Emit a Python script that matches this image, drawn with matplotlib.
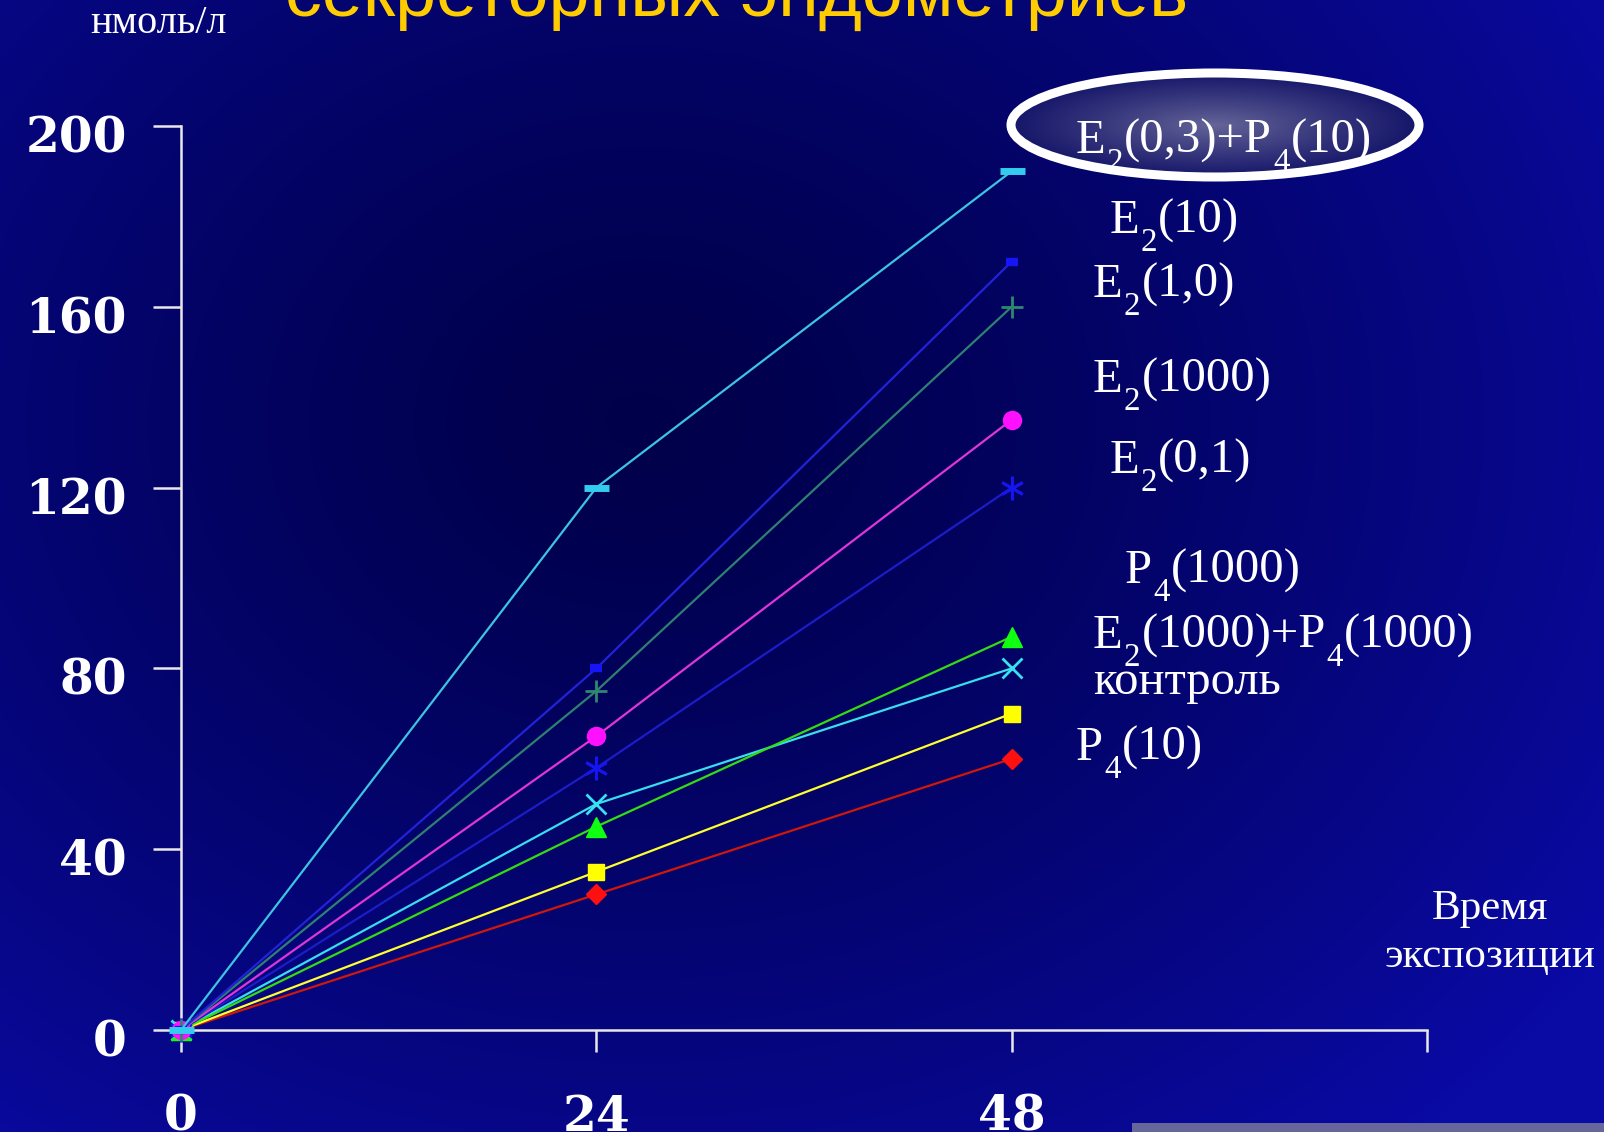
import numpy as np
import matplotlib
matplotlib.use("Agg")
import matplotlib.pyplot as plt
from matplotlib.patches import Ellipse, Rectangle
from matplotlib.transforms import ScaledTranslation

# ---- data ----
hours = [0, 24, 48]
x_ticks = [0, 24, 48, 72]
x_tick_labels = ['0', '24', '48', '']
y_ticks = [0, 40, 80, 120, 160, 200]

# "_x" marks a subscript character
series_names = [
    "E_2(0,3)+P_4(10)",
    "E_2(10)",
    "E_2(1,0)",
    "E_2(1000)",
    "E_2(0,1)",
    "P_4(1000)",
    "E_2(1000)+P_4(1000)",
    "контроль",
    "P_4(10)",
]
s_e2_03_p4_10 = [0, 120, 190]
s_e2_10 = [0, 80, 170]
s_e2_1 = [0, 75, 160]
s_e2_1000 = [0, 65, 135]
s_e2_01 = [0, 58, 120]
s_p4_1000 = [0, 45, 87]
s_e2_1000_p4_1000 = [0, 50, 80]
s_control = [0, 35, 70]
s_p4_10 = [0, 30, 60]
series_values = [s_e2_03_p4_10, s_e2_10, s_e2_1, s_e2_1000, s_e2_01,
                 s_p4_1000, s_e2_1000_p4_1000, s_control, s_p4_10]

# line colour, marker, marker colour, marker size, marker edge width
styles = [
    ('#3CC4E0', '_', '#33CCEE', 18, 5),
    ('#2222D8', '_', '#1515F5', 9, 6),
    ('#2E8070', '+', '#2E8870', 16, 2),
    ('#E035D8', 'o', '#FF10FF', 13, 1),
    ('#1C1CC8', (6, 2, 0), '#1515F0', 17, 2),
    ('#33DD11', '^', '#11FF11', 15, 1),
    ('#38DDEE', 'x', '#38E0F0', 15, 2),
    ('#FFFF30', 's', '#FFFF00', 12, 1),
    ('#D01808', 'D', '#FF1010', 10, 1),
]

# text label positions (figure pixels: left x, baseline y)
label_pos = [(1076, 153), (1110, 233), (1093, 297), (1093, 392), (1110, 473),
             (1125, 583), (1093, 648), (1093, 694), (1076, 760)]

W, H = 1604, 1132
fig = plt.figure(figsize=(W / 100, H / 100), dpi=100)
renderer = fig.canvas.get_renderer()

# ---- background: navy radial gradient ----
bg = fig.add_axes([0, 0, 1, 1], zorder=0)
bg.set_xlim(0, W)
bg.set_ylim(H, 0)
bg.axis('off')
yy, xx = np.mgrid[0:H:4, 0:W:4]
d = np.sqrt(((xx - 640) / 1150.0) ** 2 + ((yy - 420) / 950.0) ** 2)
d = np.clip(d, 0, 1) ** 1.3
dark = np.array([0x00, 0x00, 0x4A]) / 255.0
bright = np.array([0x0A, 0x0A, 0xA4]) / 255.0
img = dark[None, None, :] + (bright - dark)[None, None, :] * d[..., None]
bg.imshow(img, extent=[0, W, H, 0], aspect='auto', interpolation='bilinear')

# highlighted ellipse behind the first label
ecx, ecy, ew, eh = 1215, 125, 408, 104
ey, ex = np.mgrid[-1:1:200j, -1:1:400j]
r = np.clip(np.sqrt(ex ** 2 + ey ** 2), 0, 1)
c_in = np.array([0x66, 0x66, 0x99]) / 255.0
c_out = np.array([0x16, 0x16, 0x6A]) / 255.0
eimg = c_in[None, None, :] + (c_out - c_in)[None, None, :] * (r[..., None] ** 0.9)
im = bg.imshow(eimg, extent=[ecx - ew / 2, ecx + ew / 2, ecy + eh / 2, ecy - eh / 2],
               aspect='auto', interpolation='bilinear', zorder=2)
clip_e = Ellipse((ecx, ecy), ew, eh, transform=bg.transData, facecolor='none')
bg.add_patch(clip_e)
clip_e.set_visible(False)
im.set_clip_path(clip_e)
bg.add_patch(Ellipse((ecx, ecy), ew, eh, facecolor='none', edgecolor='white',
                     linewidth=6.5, zorder=3))

# grey strip in lower right corner
bg.add_patch(Rectangle((1132, 1123), W - 1132, 20, facecolor='#66669A',
                       edgecolor='none', zorder=2))

# partially visible title
bg.text(285, 16, "секреторных эндометриев", color='#FFCC00',
        fontsize=53, family='Liberation Sans', ha='left', va='baseline', zorder=4)

# axis unit label
bg.text(90, 33, "нмоль/л", color='white', fontsize=29,
        family='Liberation Serif', ha='left', va='baseline', zorder=4)

# x-axis caption
bg.text(1490, 919, "Время", color='white', fontsize=31,
        family='Liberation Serif', ha='center', va='baseline', zorder=4)
bg.text(1490, 967, "экспозиции", color='white', fontsize=31,
        family='Liberation Serif', ha='center', va='baseline', zorder=4)


def label_with_subscripts(x, y, s, size):
    """Draw text where '_c' renders c as a lowered, smaller subscript."""
    runs = []
    i = 0
    buf = ''
    while i < len(s):
        if s[i] == '_' and i + 1 < len(s):
            if buf:
                runs.append((buf, False))
                buf = ''
            runs.append((s[i + 1], True))
            i += 2
        else:
            buf += s[i]
            i += 1
    if buf:
        runs.append((buf, False))
    for txt, sub in runs:
        fs = size * 0.68 if sub else size
        dy = size * 0.52 if sub else 0
        t = bg.text(x, y + dy, txt, color='white', fontsize=fs,
                    family='Liberation Serif', ha='left', va='baseline', zorder=5)
        x += t.get_window_extent(renderer).width + 1


for name, (lx, ly) in zip(series_names, label_pos):
    label_with_subscripts(lx, ly, name, 35)

# ---- main chart ----
ax = fig.add_axes([181 / W, 1 - 1030 / H, (1427 - 181) / W, (1030 - 126) / H], zorder=1)
ax.set_facecolor('none')
n = len(series_values)
for i, (vals, (lc, mk, mc, ms, mew)) in enumerate(zip(series_values, styles)):
    ax.plot(hours, vals, color=lc, linewidth=1.6, marker=mk, markersize=ms,
            markerfacecolor=mc, markeredgecolor=mc, markeredgewidth=mew,
            clip_on=False, zorder=3 + (n - i) * 0.1)

ax.set_xlim(0, 72)
ax.set_ylim(0, 200)
ax.set_xticks(x_ticks)
ax.set_xticklabels(x_tick_labels)
ax.set_yticks(y_ticks)
ax.set_yticklabels([str(v) for v in y_ticks])

for side in ['top', 'right']:
    ax.spines[side].set_visible(False)
for side in ['left', 'bottom']:
    ax.spines[side].set_color('#E8E8E8')
    ax.spines[side].set_linewidth(1.8)

ax.tick_params(axis='both', direction='out', color='#E8E8E8', width=1.8,
               labelcolor='white')
ax.tick_params(axis='y', length=20, pad=19)
ax.tick_params(axis='x', length=16, pad=30)
for lab in ax.get_yticklabels() + ax.get_xticklabels():
    lab.set_fontfamily('DejaVu Serif')
    lab.set_fontweight('bold')
    lab.set_fontsize(35)
offset = ScaledTranslation(0, -8 / 100, fig.dpi_scale_trans)
for lab in ax.get_yticklabels():
    lab.set_transform(lab.get_transform() + offset)

fig.savefig('out.png', dpi=100, facecolor='#000080')
